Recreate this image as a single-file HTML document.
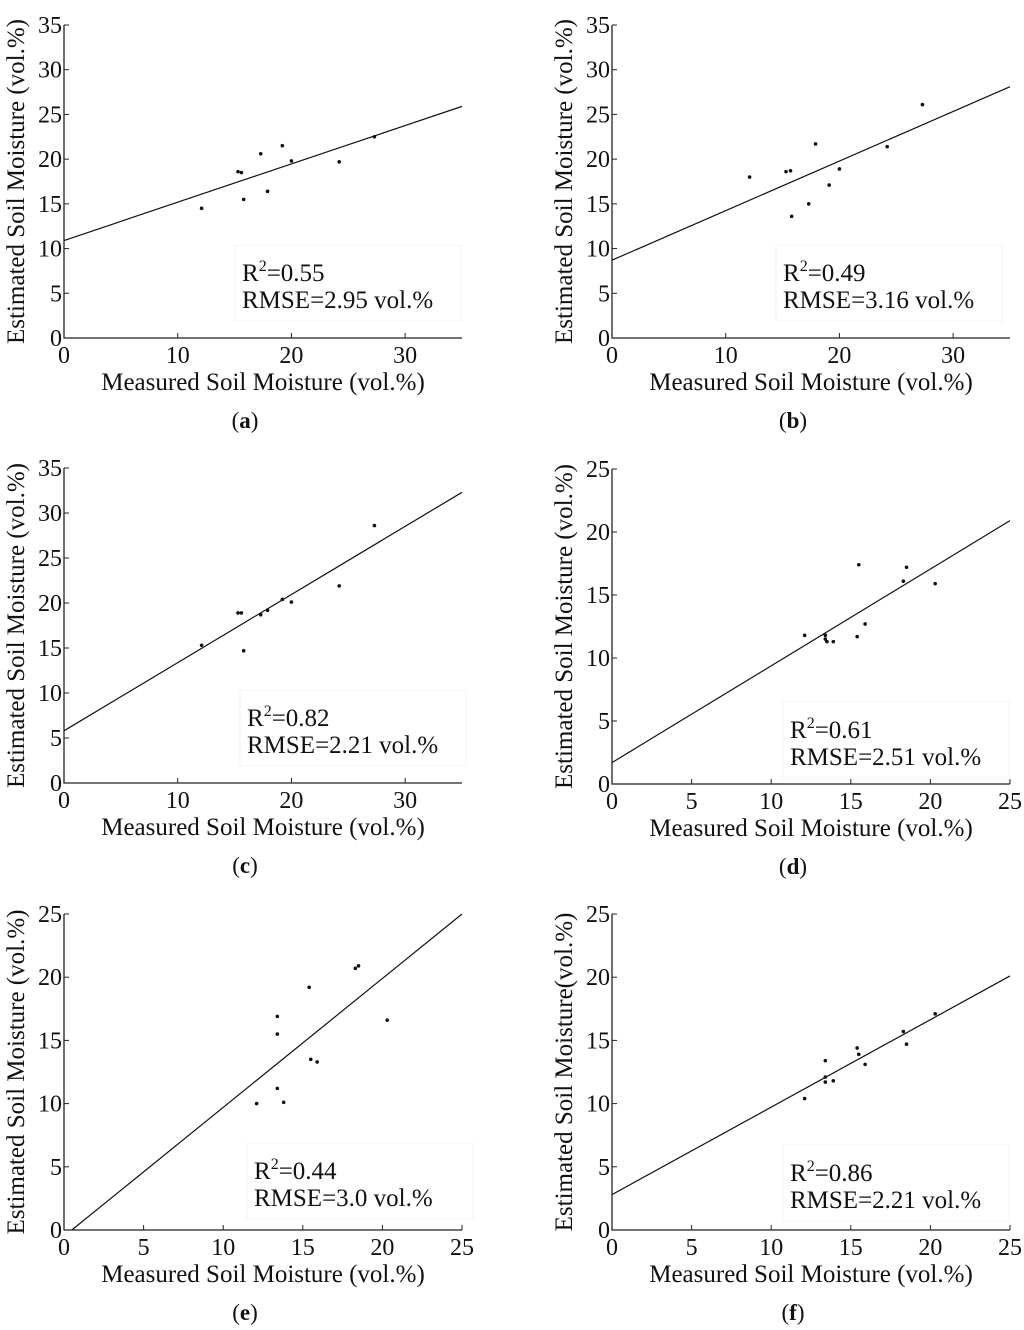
<!DOCTYPE html>
<html><head><meta charset="utf-8"><style>
html,body{margin:0;padding:0;background:#fff;}
svg{display:block;font-family:"Liberation Serif",serif;}
</style></head><body>
<svg id="fig" width="1024" height="1330" viewBox="0 0 1024 1330"></svg>
<script>
// ---- data ----
const xA=[12.1,15.3,15.6,15.8,17.3,17.9,19.2,20,24.2,27.3];
const yA=[14.5,18.6,18.5,15.5,20.6,16.4,21.5,19.8,19.7,22.5];
const fitA=[10.9,25.9];
const xB=[12.1,15.3,15.7,15.8,17.3,17.9,19.1,20,24.2,27.3];
const yB=[18,18.6,18.7,13.6,15,21.7,17.1,18.9,21.4,26.1];
const fitB=[8.7,28.1];
const xC=[12.1,15.3,15.6,15.8,17.3,17.9,19.2,20,24.2,27.3];
const yC=[15.3,18.9,18.9,14.7,18.7,19.2,20.4,20.1,21.9,28.6];
const fitC=[5.8,32.3];
const xD=[12.1,13.4,13.4,13.5,13.9,15.4,15.5,15.9,18.3,18.5,20.3];
const yD=[11.8,11.8,11.5,11.3,11.3,11.7,17.4,12.7,16.1,17.2,15.9];
const fitD=[1.7,20.9];
const xE=[12.1,13.4,13.4,13.4,13.8,15.4,15.5,15.9,18.3,18.5,20.3];
const yE=[10,16.9,15.5,11.2,10.1,19.2,13.5,13.3,20.7,20.9,16.6];
const fitE=[-0.5,25];
const xF=[12.1,13.4,13.4,13.4,13.9,15.4,15.5,15.9,18.3,18.5,20.3];
const yF=[10.4,13.4,12.1,11.7,11.8,14.4,13.9,13.1,15.7,14.7,17.1];
const fitF=[2.8,20.1];
const ticks35=[0,10,20,30];
const ticksY35=[0,5,10,15,20,25,30,35];
const ticks25=[0,5,10,15,20,25];
const statsR=["0.55","0.49","0.82","0.61","0.44","0.86"];
const statsRMSE=["2.95","3.16","2.21","2.51","3.0","2.21"];
const captions=["a","b","c","d","e","f"];

const NS="http://www.w3.org/2000/svg";
const svg=document.getElementById('fig');
function mk(tag,attrs,parent,text){const e=document.createElementNS(NS,tag);for(const k in attrs)e.setAttribute(k,attrs[k]);if(text!==undefined)e.textContent=text;parent.appendChild(e);return e;}

const panels=[
 {xs:xA,ys:yA,fit:fitA,xmax:35,ymax:35,xt:ticks35,yt:ticksY35,x0:64,x1:462,y0:338,y1:25,leg:[235,245],ytitle:"Estimated Soil Moisture (vol.%)"},
 {xs:xB,ys:yB,fit:fitB,xmax:35,ymax:35,xt:ticks35,yt:ticksY35,x0:612,x1:1010,y0:338,y1:25,leg:[776,245],ytitle:"Estimated Soil Moisture (vol.%)"},
 {xs:xC,ys:yC,fit:fitC,xmax:35,ymax:35,xt:ticks35,yt:ticksY35,x0:64,x1:462,y0:783,y1:468,leg:[240,690],ytitle:"Estimated Soil Moisture (vol.%)"},
 {xs:xD,ys:yD,fit:fitD,xmax:25,ymax:25,xt:ticks25,yt:ticks25,x0:612,x1:1010,y0:784,y1:469,leg:[783,702],ytitle:"Estimated Soil Moisture (vol.%)"},
 {xs:xE,ys:yE,fit:fitE,xmax:25,ymax:25,xt:ticks25,yt:ticks25,x0:64,x1:462,y0:1230,y1:914,leg:[247,1143],ytitle:"Estimated Soil Moisture (vol.%)"},
 {xs:xF,ys:yF,fit:fitF,xmax:25,ymax:25,xt:ticks25,yt:ticks25,x0:612,x1:1010,y0:1230,y1:914,leg:[783,1145],ytitle:"Estimated Soil Moisture(vol.%)"}
];

panels.forEach((p,i)=>{
 const g=mk('g',{},svg);
 
 
 const sx=v=>p.x0+(v/p.xmax)*(p.x1-p.x0);
 const sy=v=>p.y0-(v/p.ymax)*(p.y0-p.y1);
 const lb=mk('rect',{x:p.leg[0],y:p.leg[1],width:226,height:76,fill:'none',stroke:'#f3f3f3','stroke-width':1},g);
 
 
 const ax=mk('path',{d:`M${p.x0},${p.y1}V${p.y0}H${p.x1}`,fill:'none',stroke:'#222','stroke-width':1.3},g);
 
 
 p.xt.forEach(t=>{
  mk('line',{x1:sx(t),x2:sx(t),y1:p.y0,y2:p.y0-5,stroke:'#222','stroke-width':1},g);
  const tl=mk('text',{x:sx(t),y:p.y0+25,'font-size':24,'text-anchor':'middle',fill:'#111'},g,String(t));
  
  
 });
 p.yt.forEach(t=>{
  mk('line',{x1:p.x0,x2:p.x0+5,y1:sy(t),y2:sy(t),stroke:'#222','stroke-width':1},g);
  const tl=mk('text',{x:p.x0-2,y:sy(t)+8,'font-size':24,'text-anchor':'end',fill:'#111'},g,String(t));
  
  
 });
 let xa=0,ya=p.fit[0],xb=p.xmax,yb=p.fit[1];
 if(ya<0){xa=(0-p.fit[0])/(p.fit[1]-p.fit[0])*p.xmax;ya=0;}
 if(yb>p.ymax){xb=(p.ymax-p.fit[0])/(p.fit[1]-p.fit[0])*p.xmax;yb=p.ymax;}
 const fl=mk('line',{x1:sx(xa),y1:sy(ya),x2:sx(xb),y2:sy(yb),stroke:'#111','stroke-width':1.2},g);
 
 
 p.xs.forEach((x,j)=>{
  const c=mk('circle',{cx:sx(x),cy:sy(p.ys[j]),r:1.8,fill:'#111'},g);
  
  
 });
 const tx=p.leg[0]+7;
 const r2=mk('text',{x:tx,y:p.leg[1]+36,'font-size':25,fill:'#111'},g);
 
 
 r2.innerHTML='R<tspan font-size="16" dy="-10">2</tspan><tspan dy="10">='+statsR[i]+'</tspan>';
 const rm=mk('text',{x:tx,y:p.leg[1]+63,'font-size':25,fill:'#111'},g,'RMSE='+statsRMSE[i]+' vol.%');
 
 
 const cx=(p.x0+p.x1)/2;
 const xtl=mk('text',{x:cx,y:p.y0+52,'font-size':25,'text-anchor':'middle',fill:'#111'},g,'Measured Soil Moisture (vol.%)');
 
 
 const yx=p.x0-40, yy=(p.y0+p.y1)/2;
 const ytl=mk('text',{x:yx,y:yy,'font-size':25,'text-anchor':'middle',fill:'#111',transform:`rotate(-90 ${yx} ${yy})`},g,p.ytitle);
 
 
 const cap=mk('text',{x:cx-18,y:p.y0+90,'font-size':23,'text-anchor':'middle',fill:'#111'},g);
 
 
 cap.innerHTML='(<tspan font-weight="bold">'+captions[i]+'</tspan>)';
});
</script>
</body></html>
